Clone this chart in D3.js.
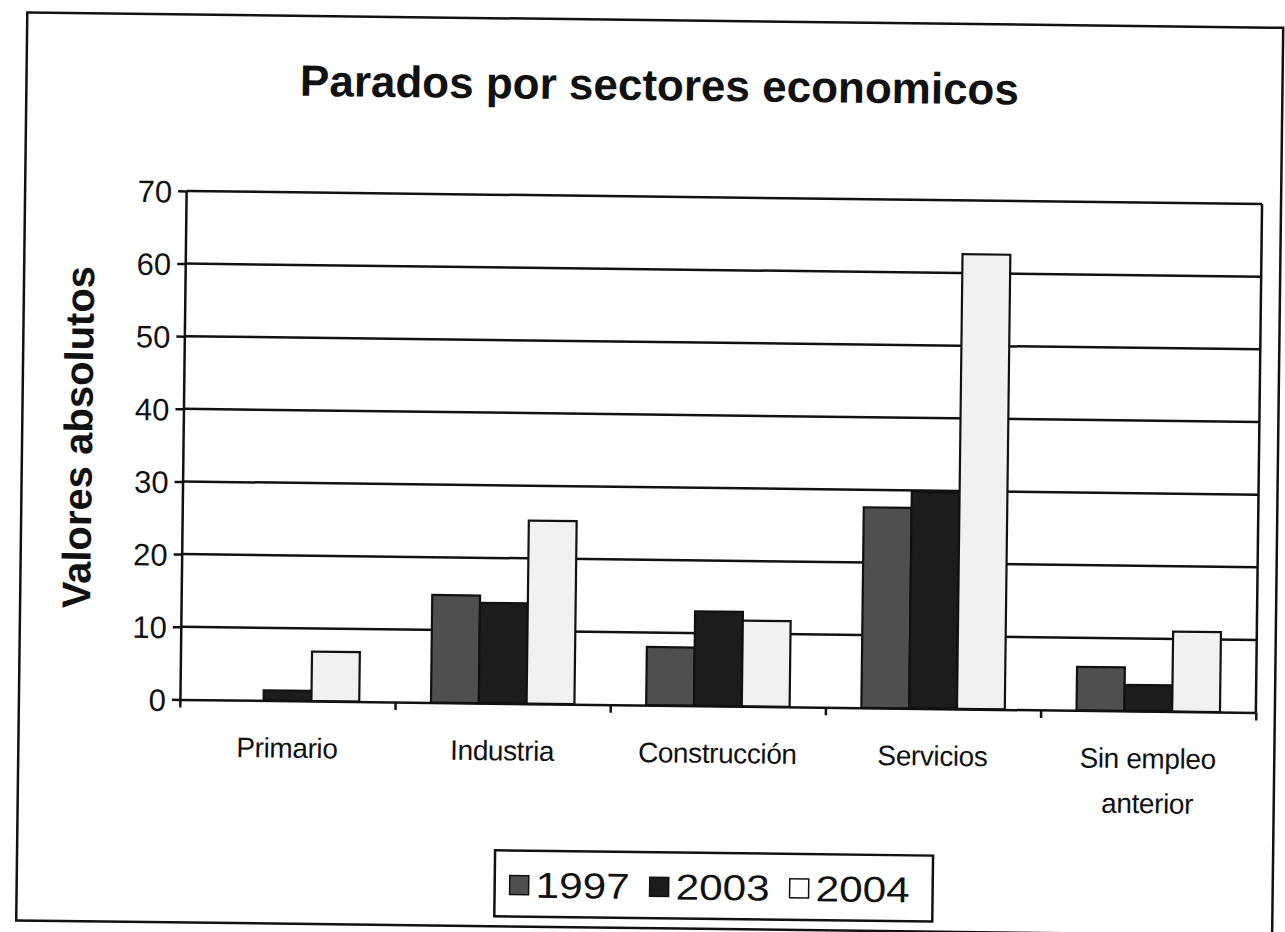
<!DOCTYPE html>
<html>
<head>
<meta charset="utf-8">
<script src="https://cdn.jsdelivr.net/npm/d3@7"></script>
<style>
  body { margin: 0; background: #fff; }
  text { font-family: 'Liberation Sans', Arial, sans-serif; fill: #111; }
</style>
</head>
<body>
<script>
'use strict';

// Data
const categories = ['Primario', 'Industria', 'Construcción', 'Servicios', 'Sin empleo\nanterior'];
const years = ['1997', '2003', '2004'];
const v1997 = [0, 14.8, 8, 27.6, 6];
const v2003 = [1.4, 13.8, 13, 29.8, 3.6];
const v2004 = [6.8, 25.2, 11.8, 62.6, 11];
const yTicks = [0, 10, 20, 30, 40, 50, 60, 70];

const series = [v1997, v2003, v2004];
const fills = ['#4f4f4f', '#1c1c1c', '#f1f1f1'];

// Initialize
const w = 1285;
const h = 932;
const plotLeft = 183, plotRight = 1259, plotTop = 196.5, plotBottom = 705;
const ink = '#111';

const svg = d3.select('body')
              .append('svg')
              .attr('width', w)
              .attr('height', h);

svg.append('rect').attr('width', w).attr('height', h).attr('fill', '#fff');

// the scan is a little tilted, so the whole chart is too
const g = svg.append('g').attr('transform', 'rotate(0.7, 640, 450)');

// outer frame
g.append('rect')
  .attr('x', 22).attr('y', 20)
  .attr('width', 1256).attr('height', 908)
  .attr('fill', 'none').attr('stroke', ink).attr('stroke-width', 2.5);

// Title
g.append('text')
  .attr('x', 655).attr('y', 100)
  .attr('text-anchor', 'middle')
  .style('font-size', '44px').style('font-weight', 'bold')
  .text('Parados por sectores economicos');

// Scales
const x = d3.scaleBand().domain(d3.range(categories.length)).range([plotLeft, plotRight]).padding(0);
const bw = x.bandwidth() / 4.5;
const xInner = d3.scaleBand().domain(d3.range(years.length))
                 .range([bw * 0.75, x.bandwidth() - bw * 0.75]).padding(0);
const y = d3.scaleLinear().domain([0, 70]).range([plotBottom, plotTop]);

// Gridlines
g.append('g')
  .selectAll('line')
  .data(yTicks.slice(1))
  .enter()
  .append('line')
  .attr('x1', plotLeft).attr('x2', plotRight)
  .attr('y1', d => y(d)).attr('y2', d => y(d))
  .attr('stroke', ink).attr('stroke-width', 2.5);

// right edge of plot area
g.append('line')
  .attr('x1', plotRight).attr('x2', plotRight)
  .attr('y1', y(70)).attr('y2', y(0))
  .attr('stroke', ink).attr('stroke-width', 2.5);

// Bars
const groups = g.selectAll('.cat')
  .data(categories)
  .enter()
  .append('g')
  .attr('class', 'cat')
  .attr('transform', (d, i) => `translate(${x(i)}, 0)`);

groups.selectAll('rect')
  .data((d, i) => series.map((s, j) => ({ v: s[i], j })).filter(b => b.v > 0))
  .enter()
  .append('rect')
  .attr('x', d => xInner(d.j))
  .attr('width', xInner.bandwidth())
  .attr('y', d => y(d.v))
  .attr('height', d => y(0) - y(d.v))
  .attr('fill', d => fills[d.j])
  .attr('stroke', ink)
  .attr('stroke-width', 2.2);

// Axes
const yAxis = d3.axisLeft(y).tickValues(yTicks).tickSize(8).tickSizeOuter(0).tickPadding(6);
const yg = g.append('g')
  .attr('transform', `translate(${plotLeft}, 0)`)
  .call(yAxis);
yg.selectAll('text').style('font-size', '31px').attr('dy', '0.36em');

const xEdge = d3.scaleLinear().domain([0, categories.length]).range([plotLeft, plotRight]);
const xAxis = d3.axisBottom(xEdge).tickValues(d3.range(categories.length + 1))
                .tickFormat('').tickSize(8).tickSizeOuter(0);
g.append('g')
  .attr('transform', `translate(0, ${plotBottom})`)
  .call(xAxis);

g.selectAll('.domain, .tick line').attr('stroke', ink).attr('stroke-width', 2.5);

// Category labels
g.append('g')
  .selectAll('text')
  .data(categories)
  .enter()
  .append('text')
  .attr('x', (d, i) => x(i) + x.bandwidth() / 2)
  .attr('y', 762)
  .attr('text-anchor', 'middle')
  .style('font-size', '28px')
  .style('letter-spacing', '-0.4px')
  .each(function(d) {
    const t = d3.select(this);
    d.split('\n').forEach((line, k) => {
      t.append('tspan')
        .attr('x', t.attr('x'))
        .attr('dy', k ? 45 : 0)
        .text(line);
    });
  });

// Y title
g.append('text')
  .attr('transform', 'translate(92, 444) rotate(-90)')
  .attr('text-anchor', 'middle')
  .style('font-size', '40px').style('font-weight', 'bold')
  .text('Valores absolutos');

// Legend
const legend = g.append('g').attr('transform', 'translate(500, 852)');
legend.append('rect')
  .attr('width', 438).attr('height', 66)
  .attr('fill', '#fff').attr('stroke', ink).attr('stroke-width', 2.5);

const itemX = [15, 155, 295];
const item = legend.selectAll('.item')
  .data(years)
  .enter()
  .append('g')
  .attr('class', 'item')
  .attr('transform', (d, i) => `translate(${itemX[i]}, 0)`);

item.append('rect')
  .attr('x', 0).attr('y', 25)
  .attr('width', 19).attr('height', 19)
  .attr('fill', (d, i) => i === 2 ? '#fff' : fills[i])
  .attr('stroke', ink).attr('stroke-width', 1.5);

item.append('text')
  .attr('x', 26).attr('y', 47)
  .attr('textLength', 94)
  .attr('lengthAdjust', 'spacingAndGlyphs')
  .style('font-size', '36px')
  .text(d => d);
</script>
</body>
</html>
